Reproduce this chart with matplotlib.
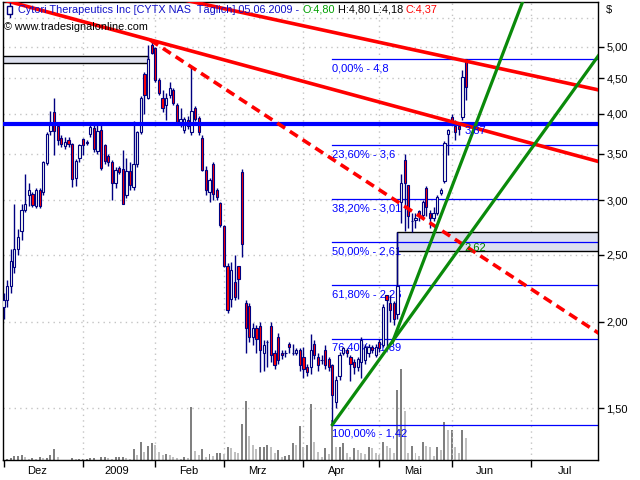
import numpy as np
import matplotlib.pyplot as plt
from matplotlib.patches import Rectangle
from matplotlib.ticker import NullLocator

plt.rcParams['font.family'] = ['Liberation Sans', 'DejaVu Sans']

# CYTX daily candles, 01.12.2008 - 05.06.2009 (trading days)
o = [2.10, 2.15, 2.25, 2.40, 2.55, 2.71, 2.90, 3.05, 3.06, 2.94, 3.10, 3.08, 3.39, 3.77, 4.02, 3.84,
     3.69, 3.59, 3.66, 3.61, 3.23, 3.45, 3.68, 3.64, 3.74, 3.81, 3.53, 3.79, 3.60, 3.47, 3.41, 3.17,
     3.34, 3.33, 3.05, 3.30, 3.13, 3.38, 3.76, 4.57, 4.22, 5.02, 4.97, 4.48, 4.21, 4.12, 4.25, 4.32,
     4.11, 3.89, 3.79, 3.92, 3.76, 4.08, 3.94, 3.69, 3.31, 3.08, 3.38, 3.10, 2.97, 2.75, 2.41, 2.16,
     2.28, 2.41, 3.29, 2.13, 2.11, 1.90, 1.96, 1.97, 1.80, 1.87, 1.97, 1.80, 1.90, 1.80, 1.80, 1.86,
     1.80, 1.80, 1.82, 1.78, 1.72, 1.72, 1.86, 1.78, 1.76, 1.82, 1.77, 1.73, 1.53, 1.67, 1.80, 1.82,
     1.78, 1.75, 1.72, 1.75, 1.76, 1.80, 1.84, 1.79, 1.87, 1.85, 2.19, 2.13, 2.13, 2.05, 2.98, 3.43,
     3.15, 2.80, 2.81, 2.89, 2.85, 3.12, 2.87, 2.83, 2.87, 3.07, 3.20, 3.74, 3.96, 3.84, 3.84, 3.96,
     4.80]
h = [2.20, 2.30, 2.55, 2.96, 2.72, 2.96, 3.27, 3.18, 3.08, 3.12, 3.12, 3.42, 3.76, 4.03, 4.22, 3.87,
     3.72, 3.70, 3.70, 3.63, 3.44, 3.62, 3.69, 3.66, 3.88, 3.86, 3.86, 3.86, 3.62, 3.50, 3.43, 3.35,
     3.36, 3.54, 3.45, 3.40, 3.90, 3.78, 4.24, 4.60, 5.02, 5.10, 5.00, 4.50, 4.32, 4.29, 4.45, 4.36,
     4.14, 4.08, 3.96, 3.97, 4.67, 4.10, 3.97, 3.72, 3.36, 3.23, 3.40, 3.12, 2.98, 2.76, 2.43, 2.44,
     2.50, 2.41, 3.33, 2.15, 2.13, 1.99, 1.98, 2.00, 1.88, 1.88, 2.00, 1.82, 1.93, 1.82, 1.82, 1.87,
     1.86, 1.83, 1.83, 1.84, 1.74, 1.92, 1.88, 1.80, 1.79, 1.85, 1.78, 1.74, 1.67, 1.81, 1.84, 1.83,
     1.79, 1.77, 1.78, 1.90, 1.86, 1.86, 1.85, 1.86, 1.89, 2.12, 2.19, 2.19, 2.14, 2.70, 3.27, 3.50,
     3.15, 2.87, 2.87, 2.90, 3.00, 3.14, 2.90, 2.93, 3.05, 3.12, 3.65, 3.80, 4.00, 3.91, 3.89, 4.62,
     4.80]
l = [2.02, 2.10, 2.20, 2.35, 2.50, 2.63, 2.88, 2.94, 2.93, 2.92, 2.92, 3.05, 3.37, 3.73, 3.48, 3.60,
     3.58, 3.56, 3.58, 3.13, 3.14, 3.40, 3.48, 3.60, 3.70, 3.52, 3.50, 3.32, 3.38, 3.36, 3.00, 3.12,
     3.27, 2.96, 3.02, 3.10, 3.10, 3.35, 3.74, 3.99, 4.20, 4.87, 4.45, 4.25, 4.02, 3.91, 4.22, 4.12,
     3.86, 3.82, 3.75, 3.80, 3.72, 3.90, 3.72, 3.30, 3.05, 2.98, 3.00, 3.00, 2.74, 2.40, 2.06, 2.10,
     2.15, 2.16, 2.48, 1.80, 1.87, 1.85, 1.80, 1.69, 1.70, 1.72, 1.75, 1.71, 1.74, 1.77, 1.78, 1.80,
     1.79, 1.79, 1.70, 1.66, 1.67, 1.68, 1.77, 1.70, 1.74, 1.71, 1.70, 1.42, 1.50, 1.65, 1.79, 1.78,
     1.64, 1.68, 1.70, 1.66, 1.74, 1.78, 1.80, 1.78, 1.81, 1.84, 1.84, 2.00, 1.98, 2.02, 2.78, 2.71,
     2.73, 2.70, 2.73, 2.80, 2.83, 2.84, 2.73, 2.80, 2.85, 3.05, 3.18, 3.48, 3.87, 3.66, 3.72, 3.92,
     4.18]
c = [2.15, 2.25, 2.45, 2.55, 2.65, 2.90, 2.96, 3.10, 2.95, 3.10, 2.94, 3.40, 3.74, 3.88, 3.78, 3.66,
     3.61, 3.64, 3.61, 3.22, 3.42, 3.60, 3.60, 3.63, 3.83, 3.55, 3.78, 3.34, 3.42, 3.40, 3.18, 3.31,
     3.29, 2.96, 3.30, 3.15, 3.38, 3.76, 4.22, 4.25, 4.79, 4.89, 4.48, 4.29, 4.08, 4.21, 4.36, 4.15,
     3.89, 3.93, 3.93, 3.84, 4.03, 3.93, 3.76, 3.32, 3.10, 3.21, 3.06, 3.03, 2.76, 2.41, 2.08, 2.38,
     2.17, 2.31, 2.59, 1.96, 1.90, 1.96, 1.89, 1.82, 1.85, 1.87, 1.79, 1.73, 1.76, 1.79, 1.80, 1.84,
     1.80, 1.82, 1.73, 1.71, 1.69, 1.82, 1.79, 1.73, 1.76, 1.73, 1.72, 1.57, 1.65, 1.79, 1.83, 1.80,
     1.74, 1.72, 1.77, 1.88, 1.84, 1.84, 1.82, 1.84, 1.83, 2.10, 2.15, 2.08, 2.02, 2.25, 3.18, 3.17,
     2.84, 2.80, 2.83, 2.84, 2.98, 2.93, 2.83, 2.87, 3.03, 3.10, 3.63, 3.79, 3.91, 3.76, 3.80, 4.52,
     4.37]
vol = [1, 1, 2, 4, 4, 5, 3, 1.3, 2, 1.3, 3, 2, 2.3, 5, 11, 3, 0.5, 0.5, 0.5, 2, 1, 1, 1, 1.3, 2,
       2.3, 0.5, 3, 3, 2, 1, 3, 3, 3, 2.3, 1, 11, 5, 18, 8, 14, 17, 15, 8, 5, 6, 5, 3, 2, 1, 3, 2,
       53, 9, 5, 11, 3, 6, 4, 7, 7, 6, 13, 12, 8, 7, 36, 59, 24, 15, 11, 13, 13, 15, 13, 7, 10, 3,
       4, 5, 17, 15, 34, 13, 15, 56, 18, 8, 3, 12, 6, 40, 13, 13, 17, 7, 3, 12, 10, 7, 6, 13, 12, 7,
       5, 18, 14, 12, 7, 70, 91, 49, 7, 14, 7, 4, 18, 14, 13, 4, 13, 10, 38, 30, 30, 13, 7, 30, 22]

month_names = ['Dez', '2009', 'Feb', 'Mrz', 'Apr', 'Mai', 'Jun', 'Jul']
month_start = [0, 22, 42, 61, 83, 104, 124, 146]

fib_pct = ['0,00%', '23,60%', '38,20%', '50,00%', '61,80%', '76,40%', '100,00%']
fib_val = [4.8, 3.6, 3.01, 2.61, 2.26, 1.89, 1.42]
fib_val_txt = ['4,8', '3,6', '3,01', '2,61', '2,26', '1,89', '1,42']
fib_start = 91

support = 3.87
zone_top = (4.73, 4.84, 40)     # low, high, last day
zone_bot = (2.53, 2.70, 109)    # low, high, first day
zone_bot_mid = 2.62

# trend lines, two anchors (day, price) each
red_up = [(82.1, 5.37), (143.0, 4.58)]
red_mid = [(41.4, 5.10), (143.0, 3.66)]
red_dash = [(40.6, 5.11), (118.0, 2.78)]
green_a = [(91.0, 1.42), (131.9, 2.81)]
green_b = [(113.1, 2.22), (139.6, 5.11)]

o, h, l, c, vol = map(np.array, (o, h, l, c, vol))
x = np.arange(len(c))

W, H = 640, 480
bg = '#f6faee'
navy = '#000080'
fig = plt.figure(figsize=(6.4, 4.8), dpi=100)
rect = [3 / W, 1 - 460 / H, 595 / W, 458 / H]

# volume underneath, own scale
axv = fig.add_axes(rect)
axv.set_facecolor(bg)
vcol = ['#808080' if i == 0 or vol[i] >= vol[i - 1] else '#c0c0c0' for i in range(len(vol))]
axv.bar(x, vol, width=0.55, color=vcol, linewidth=0)
axv.set_ylim(0, 458)
axv.set_xlim(-0.14, 164.5)
axv.axis('off')

ax = fig.add_axes(rect)
ax.set_facecolor('none')
ax.set_yscale('log')
ax.set_xlim(-0.14, 164.5)
ax.set_ylim(1.2625, 5.80)

# grid
grid_kw = dict(color='#c4c4c4', lw=1, ls=(0, (1, 3)), zorder=0)
for yv in [1.5, 2.0, 2.5, 3.0, 3.5, 4.0, 4.5, 5.0, 5.5]:
    ax.axhline(yv, **grid_kw)
for m in month_start[1:]:
    ax.axvline(m, **grid_kw)

# zones
ax.add_patch(Rectangle((-1, zone_top[0]), zone_top[2] + 1, zone_top[1] - zone_top[0],
                       facecolor='#dde0ee', edgecolor='black', lw=1, zorder=1))
ax.add_patch(Rectangle((zone_bot[2], zone_bot[0]), 60, zone_bot[1] - zone_bot[0],
                       facecolor='#dde0ee', edgecolor='black', lw=1, zorder=1))
ax.plot([zone_bot[2], zone_bot[2]], [zone_bot[0], 2.25], color='black', lw=1, zorder=1)

# fibonacci
for p, v, vt in zip(fib_pct, fib_val, fib_val_txt):
    ax.plot([fib_start, 170], [v, v], color='#0000ff', lw=0.9, zorder=2)
    ax.annotate(p + ' - ' + vt, (fib_start, v), xytext=(0, -3), textcoords='offset points',
                color='#0000ff', fontsize=8, va='top', ha='left', zorder=2)

# candles
ax.vlines(x, l, h, color=navy, lw=1, zorder=3)
ax.bar(x, c - o, bottom=o, width=0.62, color=np.where(c >= o, bg, '#ff0000'),
       edgecolor=navy, linewidth=0.8, zorder=4)

ax.axhline(support, color='#0000ff', lw=3, zorder=5)


def extend(p, x0, x1):
    (a, pa), (b, pb) = p
    k = (np.log(pb) - np.log(pa)) / (b - a)
    return [x0, x1], [pa * np.exp(k * (x0 - a)), pa * np.exp(k * (x1 - a))]


ax.plot(*extend(red_up, 40, 170), color='#ff0000', lw=2.6, zorder=5)
ax.plot(*extend(red_mid, -2, 170), color='#ff0000', lw=2.6, zorder=5)
ax.plot(*extend(red_dash, red_dash[0][0], 170), color='#ff0000', lw=2.6,
        ls=(0, (2.6, 1.6)), zorder=5)
ax.plot(*extend(green_a, green_a[0][0], 170), color='#0a8a0a', lw=2.3, zorder=6)
ax.plot(*extend(green_b, 107.6, 170), color='#0a8a0a', lw=2.3, zorder=6)

ax.text(127.6, 3.78, '3,87', color='#0000ff', fontsize=8, va='center', zorder=7)
ax.text(127.6, 2.56, '2,62', color='#008000', fontsize=8, va='center', zorder=7)

# axes
yt = [1.5, 2.0, 2.5, 3.0, 3.5, 4.0, 4.5, 5.0]
ax.yaxis.tick_right()
ax.set_yticks(yt)
ax.set_yticklabels([f'{v:.2f}'.replace('.', ',') for v in yt])
ax.yaxis.set_minor_locator(NullLocator())
ax.tick_params(axis='y', length=4, width=1, labelsize=8, pad=2)

ax.set_xticks(month_start)
ax.set_xticklabels([''] * len(month_start))
ax.set_xticks([m + 9.3 for m in month_start], minor=True)
ax.set_xticklabels(month_names, minor=True)
ax.tick_params(axis='x', which='major', length=5, width=1)
ax.tick_params(axis='x', which='minor', length=0, labelsize=8, pad=4)
for s in ax.spines.values():
    s.set_color('black')
    s.set_linewidth(1)

fig.text(606 / W, 1 - 10 / H, '$', fontsize=8, va='center', ha='left')

# header
fig.add_artist(Rectangle((7 / W, 1 - 14 / H), 5 / W, 8 / H, transform=fig.transFigure,
                         facecolor='white', edgecolor=navy, lw=1, zorder=10))
fig.add_artist(plt.Line2D([9.5 / W, 9.5 / W], [1 - 17 / H, 1 - 3 / H], transform=fig.transFigure,
                          color=navy, lw=1, zorder=9))

renderer = fig.canvas.get_renderer()
xpos = 18
for s, col in [('Cytori Therapeutics Inc [CYTX NAS  Täglich] 05.06.2009 - ', '#1010c8'),
               ('O:4,80', '#00a000'), (' H:4,80 L:4,18 ', 'black'), ('C:4,37', '#ff0000')]:
    t = fig.text(xpos / W, 1 - 10 / H, s, color=col, fontsize=7.8, va='center', ha='left', zorder=11)
    xpos = t.get_window_extent(renderer).x1
fig.text(4 / W, 1 - 27 / H, '© www.tradesignalonline.com', color='black', fontsize=7.8,
         va='center', ha='left', zorder=11)

fig.savefig('out.png', dpi=100)
